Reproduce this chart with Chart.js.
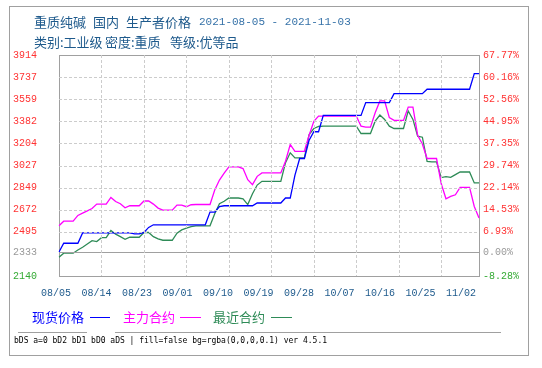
<!DOCTYPE html>
<html>
<head>
<meta charset="utf-8">
<script src="https://cdn.jsdelivr.net/npm/chart.js@4"></script>
<style>
body { margin: 0; background: #fff; }
#wrap { position: relative; width: 542px; height: 368px; overflow: hidden; font-family: "Noto Sans CJK SC", sans-serif; }
#frame { position: absolute; left: 9px; top: 6px; width: 520px; height: 350px; box-sizing: border-box; border: 1px solid #a0a0a0; }
canvas { position: absolute; left: 0; top: 0; }
.t { position: absolute; white-space: nowrap; font-size: 13px; line-height: 16px; color: #1e5a8c; }
.mono { font-family: "Liberation Mono", monospace; font-size: 11px; color: #3672a8; }
.lg { position: absolute; white-space: nowrap; font-size: 13px; line-height: 16px; top: 309px; }
.ln { position: absolute; height: 1px; top: 317px; }
.rule { position: absolute; height: 1px; top: 332px; background: #a0a0a0; }
#dbg { position: absolute; left: 14px; top: 336px; width: 510px; font: 8px monospace; white-space: pre-wrap; color: #000; }
</style>
</head>
<body>
<div id="wrap">
  <div id="frame"></div>
  <canvas id="priceChart" width="542" height="368" style="width:542px;height:368px"></canvas>
  <div class="t" style="left:34px;top:14px">重质纯碱</div>
  <div class="t" style="left:93px;top:14px">国内</div>
  <div class="t" style="left:126px;top:14px">生产者价格</div>
  <div class="t mono" style="left:199px;top:14px">2021-08-05 - 2021-11-03</div>
  <div class="t" style="left:34px;top:34px">类别:工业级</div>
  <div class="t" style="left:105px;top:34px">密度:重质</div>
  <div class="t" style="left:170px;top:34px">等级:优等品</div>
  <div class="lg" style="left:32px;color:#0000ff">现货价格</div>
  <div class="ln" style="left:90px;width:20px;background:#0000ff"></div>
  <div class="lg" style="left:123px;color:#ff00ff">主力合约</div>
  <div class="ln" style="left:180px;width:21px;background:#ff00ff"></div>
  <div class="lg" style="left:213px;color:#2e8b57">最近合约</div>
  <div class="ln" style="left:271px;width:21px;background:#2e8b57"></div>
  <div class="rule" style="left:18px;width:69px"></div>
  <div class="rule" style="left:115px;width:386px"></div>
  <div id="dbg"></div>
</div>
<script>
const dates = [
    '08/05', '08/06', '08/07', '08/08', '08/09', '08/10', '08/11', '08/12', '08/13', '08/14',
    '08/15', '08/16', '08/17', '08/18', '08/19', '08/20', '08/21', '08/22', '08/23', '08/24',
    '08/25', '08/26', '08/27', '08/28', '08/29', '08/30', '08/31', '09/01', '09/02', '09/03',
    '09/04', '09/05', '09/06', '09/07', '09/08', '09/09', '09/10', '09/11', '09/12', '09/13',
    '09/14', '09/15', '09/16', '09/17', '09/18', '09/19', '09/20', '09/21', '09/22', '09/23',
    '09/24', '09/25', '09/26', '09/27', '09/28', '09/29', '09/30', '10/01', '10/02', '10/03',
    '10/04', '10/05', '10/06', '10/07', '10/08', '10/09', '10/10', '10/11', '10/12', '10/13',
    '10/14', '10/15', '10/16', '10/17', '10/18', '10/19', '10/20', '10/21', '10/22', '10/23',
    '10/24', '10/25', '10/26', '10/27', '10/28', '10/29', '10/30', '10/31', '11/01', '11/02'
];

// 现货价格
const spotPrice = [
    2333, 2403, 2403, 2403, 2403, 2486, 2486, 2486, 2486, 2486,
    2486, 2486, 2486, 2486, 2486, 2486, 2478, 2478, 2490, 2530,
    2551, 2551, 2551, 2551, 2551, 2551, 2551, 2551, 2551, 2551,
    2551, 2551, 2653, 2653, 2698, 2704, 2704, 2704, 2704, 2704,
    2704, 2704, 2726, 2726, 2726, 2726, 2726, 2726, 2766, 2766,
    2950, 3083, 3083, 3230, 3298, 3298, 3429, 3429, 3429, 3429,
    3429, 3429, 3429, 3429, 3429, 3532, 3532, 3532, 3532, 3532,
    3532, 3604, 3604, 3604, 3604, 3604, 3604, 3604, 3639, 3639,
    3639, 3639, 3639, 3639, 3639, 3639, 3639, 3639, 3765, 3765
];

// 主力合约
const mainContract = [
    2543, 2580, 2580, 2580, 2626, 2645, 2663, 2682, 2717, 2717,
    2717, 2771, 2738, 2720, 2688, 2704, 2704, 2704, 2742, 2742,
    2717, 2685, 2669, 2669, 2669, 2709, 2709, 2696, 2712, 2714,
    2714, 2714, 2714, 2830, 2910, 2965, 3016, 3016, 3016, 3002,
    2913, 2873, 2940, 2967, 2967, 2967, 2967, 2967, 3061, 3195,
    3141, 3141, 3141, 3270, 3381, 3424, 3424, 3424, 3424, 3424,
    3424, 3424, 3424, 3424, 3343, 3335, 3335, 3451, 3545, 3545,
    3411, 3389, 3389, 3389, 3496, 3496, 3270, 3200, 3083, 3083,
    3083, 2880, 2760, 2779, 2792, 2851, 2851, 2851, 2698, 2605
];

// 最近合约
const nearContract = [
    2290, 2323, 2323, 2323, 2349, 2371, 2397, 2424, 2416, 2448,
    2448, 2505, 2476, 2456, 2435, 2451, 2451, 2451, 2489, 2489,
    2456, 2438, 2427, 2427, 2427, 2484, 2510, 2524, 2537, 2543,
    2543, 2543, 2543, 2640, 2720, 2740, 2766, 2766, 2766, 2760,
    2713, 2800, 2870, 2900, 2900, 2900, 2900, 2900, 3050, 3129,
    3088, 3088, 3088, 3276, 3324, 3340, 3343, 3343, 3343, 3343,
    3343, 3343, 3343, 3343, 3284, 3284, 3284, 3383, 3432, 3397,
    3343, 3324, 3324, 3324, 3465, 3397, 3262, 3254, 3060, 3056,
    3056, 2930, 2938, 2932, 2954, 2975, 2975, 2975, 2887, 2887
];

const priceTicks = [3914, 3737, 3559, 3382, 3204, 3027, 2849, 2672, 2495, 2333, 2140];
const pctTicks = ['67.77%', '60.16%', '52.56%', '44.95%', '37.35%', '29.74%', '22.14%', '14.53%', '6.93%', '0.00%', '-8.28%'];
const dateTicks = ['08/05', '08/14', '08/23', '09/01', '09/10', '09/19', '09/28', '10/07', '10/16', '10/25', '11/02'];
const basePrice = 2333;
const minPrice = 2140;
const maxPrice = 3914;

const tickFont = { family: 'Liberation Mono', size: 10 };
const dbg = document.getElementById('dbg');
window.onerror = function(m) { dbg.textContent += 'ERR ' + m + ' '; };

function tickColor(v) {
    if (v === basePrice) return '#999999';
    if (v === minPrice) return '#33aa33';
    return '#ff3333';
}

function gridColor(v) {
    if (v === basePrice || v === maxPrice) return '#a0a0a0';
    return '#cccccc';
}

function setPriceTicks(scale) {
    scale.ticks = priceTicks.slice().reverse().map(v => ({ value: v }));
}

function lineSet(label, data, color) {
    return {
        label: label, data: data, borderColor: color, xAxisID: 'x', yAxisID: 'y',
        borderWidth: 1.3, pointRadius: 0, tension: 0, fill: false
    };
}

let hookLog = [];
const dashGrid = {
    id: 'dashGrid',
    beforeDatasetsDraw(chart) {
        const g = chart.ctx.getImageData(70, 70, 40, 10).data;
        let m = 0;
        for (let i = 3; i < g.length; i += 4) m = Math.max(m, g[i]);
        hookLog.push('bDS a=' + m);
    },
    beforeDatasetDraw(chart, args) { hookLog.push('bD' + args.index); },
    afterDatasetsDraw(chart) {
        const ctx = chart.ctx;
        const area = chart.chartArea;
        const sx = chart.scales.x;
        const sy = chart.scales.y;
        ctx.save();
        ctx.lineWidth = 1;
        priceTicks.forEach(v => {
            if (v === minPrice) return;
            const y = Math.round(sy.getPixelForValue(v)) + 0.5;
            ctx.strokeStyle = gridColor(v);
            ctx.setLineDash(v === basePrice || v === maxPrice ? [] : [3, 2]);
            ctx.beginPath();
            ctx.moveTo(area.left, y);
            ctx.lineTo(area.right, y);
            ctx.stroke();
        });
        ctx.strokeStyle = '#cccccc';
        ctx.setLineDash([3, 2]);
        dates.forEach((d, i) => {
            if (i === 0 || i % 9 !== 0) return;
            const x = Math.round(sx.getPixelForValue(i)) + 0.5;
            ctx.beginPath();
            ctx.moveTo(x, area.top);
            ctx.lineTo(x, area.bottom);
            ctx.stroke();
        });
        ctx.restore();
        hookLog.push('aDS');
    }
};

const chart = new Chart(document.getElementById('priceChart'), {
    type: 'line',
    data: {
        labels: dates,
        datasets: [
            lineSet('现货价格', spotPrice, '#0000ff'),
            lineSet('主力合约', mainContract, '#ff00ff'),
            lineSet('最近合约', nearContract, '#2e8b57')
        ]
    },
    plugins: [dashGrid],
    options: {
        responsive: false,
        animation: false,
        layout: { padding: { left: 13, right: 0, top: 55, bottom: 52 } },
        plugins: { legend: { display: false }, tooltip: { enabled: false } },
        scales: {
            x: {
                type: 'category',
                offset: false,
                afterFit: s => { s.height = 0; },
                ticks: { display: false },
                grid: { display: false, drawTicks: false },
                border: { display: true, color: '#a0a0a0' }
            },
            x2: {
                type: 'linear',
                position: 'bottom',
                min: 0,
                max: 10.37,
                bounds: 'data',
                afterBuildTicks: s => { s.ticks = dateTicks.map((d, i) => ({ value: i })); },
                afterFit: s => { s.height = 40; },
                grid: { display: false, drawTicks: false },
                border: { display: false },
                ticks: {
                    autoSkip: false, maxRotation: 0, padding: 11, labelOffset: -3,
                    font: tickFont, color: '#1e5a8c',
                    callback: (v, i) => dateTicks[i]
                }
            },
            y: {
                position: 'left',
                min: minPrice,
                max: maxPrice,
                afterBuildTicks: setPriceTicks,
                afterFit: s => { s.width = 46; },
                grid: { display: false, drawTicks: false },
                border: { display: true, color: '#a0a0a0' },
                ticks: {
                    crossAlign: 'far', padding: 4, font: tickFont,
                    color: c => tickColor(c.tick.value),
                    callback: v => String(v)
                }
            },
            y1: {
                position: 'right',
                min: minPrice,
                max: maxPrice,
                afterBuildTicks: setPriceTicks,
                afterFit: s => { s.width = 63; },
                grid: { drawOnChartArea: false, drawTicks: false },
                border: { display: true, color: '#a0a0a0' },
                ticks: {
                    padding: 4, font: tickFont,
                    color: c => tickColor(c.tick.value),
                    callback: v => pctTicks[priceTicks.indexOf(v)]
                }
            }
        }
    }
});

const m0 = chart.getDatasetMeta(2);
dbg.textContent += hookLog.join(' ') + ' | fill=' + JSON.stringify(m0.dataset.options.fill) + ' bg=' + m0.dataset.options.backgroundColor + ' ver ' + Chart.version;
</script>
</body>
</html>
